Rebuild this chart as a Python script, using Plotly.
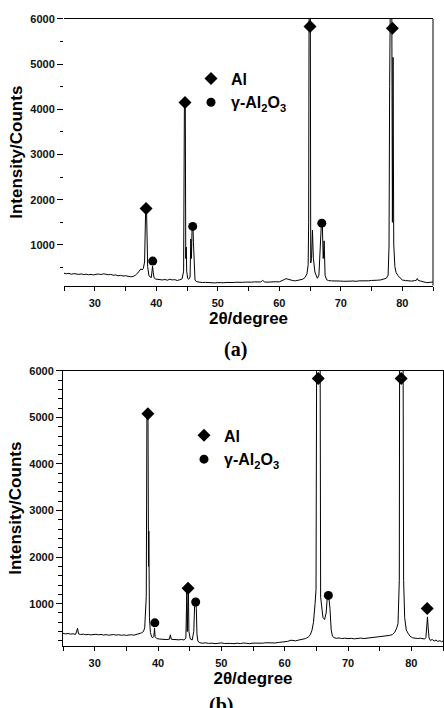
import plotly.graph_objects as go

# ---------------- data: pattern (a) ----------------
two_theta_a = [
    25.0, 25.4, 25.8, 26.2, 26.6, 27.0, 27.4, 27.8, 28.2, 28.6, 29.0, 29.4, 29.8,
    30.2, 30.6, 31.0, 31.4, 31.8, 32.2, 32.6, 33.0, 33.4, 33.8, 34.2, 34.6, 35.0,
    35.4, 35.8, 36.2, 36.6, 37.0, 37.3, 37.5, 37.7, 37.9, 38.1, 38.2, 38.28, 38.42,
    38.5, 38.6, 38.8, 39.0, 39.2, 39.32, 39.4, 39.5, 39.65, 39.9, 40.2, 40.6, 41.0,
    41.4, 41.8, 42.2, 42.6, 43.0, 43.4, 43.8, 44.2, 44.45, 44.58, 44.72, 44.8, 44.88,
    44.95, 45.1, 45.3, 45.5, 45.62, 45.72, 45.83, 45.97, 46.05, 46.15, 46.3, 46.6,
    47.0, 47.5, 48.0, 48.5, 49.0, 49.5, 50.0, 50.5, 51.0, 51.5, 52.0, 52.5, 53.0,
    53.5, 54.0, 54.5, 55.0, 55.5, 56.0, 56.5, 57.0, 57.3, 57.6, 58.0, 58.5, 59.0,
    59.5, 60.0, 60.4, 60.8, 61.1, 61.4, 61.8, 62.2, 62.6, 63.0, 63.4, 63.8, 64.2,
    64.5, 64.7, 64.78, 64.85, 65.05, 65.12, 65.25, 65.4, 65.55, 65.8, 66.0, 66.2,
    66.45, 66.7, 66.85, 67.0, 67.15, 67.3, 67.45, 67.7, 68.0, 68.5, 69.0, 69.5,
    70.0, 70.5, 71.0, 71.5, 72.0, 72.5, 73.0, 73.5, 74.0, 74.5, 75.0, 75.5, 76.0,
    76.5, 77.0, 77.4, 77.7, 77.85, 77.95, 78.05, 78.3, 78.4, 78.5, 78.62, 78.8,
    79.0, 79.3, 79.6, 80.0, 80.5, 81.0, 81.5, 82.0, 82.3, 82.45, 82.6, 83.0, 83.5,
    84.0, 84.5, 85.0,
]
counts_a = [
    375, 362, 370, 352, 366, 355, 348, 358, 344, 352, 340, 348, 336,
    350, 356, 345, 360, 352, 340, 348, 330, 336, 318, 326, 312, 318,
    305, 296, 300, 330, 380, 440, 470, 445, 480, 620, 1250, 1800, 1800,
    1150, 520, 330, 290, 280, 420, 530, 400, 270, 245, 238, 244, 225,
    236, 220, 240, 226, 232, 214, 228, 250, 420, 4150, 4150, 700, 950,
    420, 260, 240, 290, 1130, 700, 1400, 1400, 1050, 450, 220, 185,
    175, 168, 172, 165, 170, 160, 166, 158, 164, 170, 162, 168, 174,
    166, 172, 178, 170, 176, 182, 174, 180, 215, 182, 176, 184, 178,
    186, 182, 200, 232, 254, 240, 222, 212, 205, 214, 222, 240, 280,
    360, 560, 1500, 6300, 6300, 600, 700, 1330, 700, 400, 300, 262,
    330, 1000, 1480, 1480, 700, 1090, 330, 230, 212, 205, 198, 206,
    200, 196, 204, 198, 202, 195, 205, 200, 210, 206, 214, 210, 220,
    226, 238, 262, 330, 955, 4500, 6300, 6300, 1500, 5150, 1000, 520,
    390, 320, 270, 225, 212, 205, 200, 210, 218, 258, 215, 200, 185,
    165, 172, 182,
]

# ---------------- data: pattern (b) ----------------
two_theta_b = [
    25.0, 25.4, 25.8, 26.2, 26.6, 27.0, 27.3, 27.45, 27.8, 28.2, 28.6, 29.0, 29.4,
    29.8, 30.2, 30.6, 31.0, 31.4, 31.8, 32.2, 32.6, 33.0, 33.4, 33.8, 34.2, 34.6,
    35.0, 35.4, 35.8, 36.2, 36.6, 37.0, 37.4, 37.7, 37.9, 38.15, 38.25, 38.42, 38.5,
    38.55, 38.65, 38.8, 39.0, 39.2, 39.35, 39.45, 39.55, 39.8, 40.2, 40.6, 41.0,
    41.4, 41.8, 41.95, 42.1, 42.5, 42.9, 43.3, 43.7, 44.1, 44.4, 44.55, 44.62, 44.72,
    44.8, 44.88, 45.1, 45.4, 45.65, 45.8, 45.95, 46.05, 46.15, 46.3, 46.6, 47.0,
    47.5, 48.0, 48.5, 49.0, 49.5, 50.0, 50.5, 51.0, 51.5, 52.0, 52.5, 53.0, 53.5,
    54.0, 54.5, 55.0, 55.5, 56.0, 56.5, 57.0, 57.5, 58.0, 58.5, 59.0, 59.5, 60.0,
    60.5, 61.0, 61.3, 61.7, 62.1, 62.5, 62.9, 63.3, 63.7, 64.0, 64.3, 64.55, 64.8,
    64.95, 65.05, 65.6, 65.68, 65.85, 66.05, 66.3, 66.55, 66.75, 66.95, 67.15, 67.35,
    67.55, 67.8, 68.2, 68.6, 69.0, 69.5, 70.0, 70.5, 71.0, 71.5, 72.0, 72.5, 73.0,
    73.5, 74.0, 74.5, 75.0, 75.5, 76.0, 76.5, 77.0, 77.4, 77.7, 77.9, 78.1, 78.15,
    78.7, 78.78, 78.95, 79.2, 79.5, 79.8, 80.2, 80.6, 81.0, 81.4, 81.8, 82.1, 82.3,
    82.42, 82.55, 82.65, 82.8, 83.0, 83.3, 83.6, 83.9, 84.2, 84.5, 84.8, 85.0,
]
counts_b = [
    362, 350, 358, 346, 352, 340, 470, 350, 338, 344, 332, 340, 328,
    336, 342, 330, 338, 326, 334, 322, 330, 336, 324, 332, 320, 328,
    318, 326, 332, 322, 340, 350, 372, 400, 480, 1150, 5080, 5080, 1800,
    2560, 700, 380, 285, 270, 300, 470, 290, 250, 240, 232, 240,
    228, 236, 330, 235, 228, 236, 222, 230, 220, 260, 1250, 400, 1330,
    1330, 400, 240, 220, 400, 1034, 1034, 900, 350, 190, 160, 150,
    158, 146, 152, 140, 150, 156, 144, 152, 146, 140, 150, 142, 154,
    148, 140, 152, 146, 156, 150, 160, 154, 162, 155, 165, 172, 182,
    190, 215, 210, 200, 214, 225, 232, 250, 280, 320, 420, 600, 1000,
    1300, 6300, 6300, 1140, 860, 700, 660, 800, 1177, 1177, 900, 430,
    300, 270, 256, 262, 250, 258, 248, 255, 244, 252, 260, 250, 258,
    266, 260, 270, 278, 286, 300, 316, 334, 390, 480, 574, 1500, 6300,
    6300, 1500, 700, 432, 360, 300, 266, 256, 250, 258, 246, 240, 270,
    500, 715, 500, 260, 210, 230, 195, 218, 186, 205, 180, 200,
]

# ---------------- peak markers ----------------
al_a_x = [38.34, 44.68, 65.0, 78.4]
al_a_y = [1804, 4150, 5830, 5795]
gam_a_x = [39.43, 45.93, 66.92]
gam_a_y = [642, 1409, 1481]

al_b_x = [38.4, 44.75, 65.3, 78.4, 82.5]
al_b_y = [5077, 1332, 5836, 5836, 894]
gam_b_x = [39.5, 45.95, 66.9]
gam_b_y = [587, 1034, 1177]

x_range = [25, 85]
y_range = [100, 6000]

assert len(two_theta_a) == len(counts_a)
assert len(two_theta_b) == len(counts_b)

W, H = 444, 708
SANS = "Liberation Sans"
tick_font = dict(family=SANS, size=11, color="#111111", weight="bold")
title_font = dict(family=SANS, size=17, color="black", weight="bold")
legend_font = dict(family=SANS, size=16, color="black", weight="bold")

fig = go.Figure()

line_style = dict(color="black", width=1)
fig.add_trace(go.Scatter(x=two_theta_a, y=counts_a, mode="lines", line=line_style,
                         xaxis="x", yaxis="y", showlegend=False, hoverinfo="skip"))
fig.add_trace(go.Scatter(x=al_a_x, y=al_a_y, mode="markers", name="Al",
                         marker=dict(symbol="diamond", size=10, color="black"),
                         xaxis="x", yaxis="y", legend="legend"))
fig.add_trace(go.Scatter(x=gam_a_x, y=gam_a_y, mode="markers",
                         name="γ-Al<sub>2</sub>O<sub>3</sub>",
                         marker=dict(symbol="circle", size=9, color="black"),
                         xaxis="x", yaxis="y", legend="legend"))

fig.add_trace(go.Scatter(x=two_theta_b, y=counts_b, mode="lines", line=line_style,
                         xaxis="x2", yaxis="y2", showlegend=False, hoverinfo="skip"))
fig.add_trace(go.Scatter(x=al_b_x, y=al_b_y, mode="markers", name="Al",
                         marker=dict(symbol="diamond", size=10, color="black"),
                         xaxis="x2", yaxis="y2", legend="legend2"))
fig.add_trace(go.Scatter(x=gam_b_x, y=gam_b_y, mode="markers",
                         name="γ-Al<sub>2</sub>O<sub>3</sub>",
                         marker=dict(symbol="circle", size=9, color="black"),
                         xaxis="x2", yaxis="y2", legend="legend2"))


def px_x(a, b):
    return [a / W, b / W]


def px_y(top, bottom):
    return [1 - bottom / H, 1 - top / H]


def xaxis_cfg(domain, anchor):
    return dict(
        domain=domain, anchor=anchor, range=x_range, dtick=10, tick0=0,
        ticks="outside", ticklen=4, tickwidth=1, tickcolor="black",
        minor=dict(dtick=5, tick0=0, ticks="outside", ticklen=4, tickcolor="black"),
        showline=True, linecolor="black", linewidth=1, mirror=True,
        showgrid=False, zeroline=False, tickfont=tick_font, ticklabelstandoff=3,
        title=dict(text="2θ/degree", font=title_font, standoff=3),
    )


fig.update_layout(
    width=W, height=H, margin=dict(l=0, r=0, t=0, b=0),
    paper_bgcolor="white", plot_bgcolor="white",
    xaxis=xaxis_cfg(px_x(64, 433), "y"),
    yaxis=dict(
        domain=px_y(13, 282), anchor="x", range=y_range, dtick=1000, tick0=0,
        ticks="outside", ticklen=6, tickcolor="black",
        minor=dict(dtick=500, tick0=0, ticks="outside", ticklen=3, tickcolor="black"),
        showline=False, showgrid=False, zeroline=False, tickfont=tick_font,
        title=dict(text="Intensity/Counts", font=title_font, standoff=3),
    ),
    xaxis2=xaxis_cfg(px_x(63, 443), "y2"),
    yaxis2=dict(
        domain=px_y(368, 645), anchor="x2", range=y_range, dtick=1000, tick0=0,
        ticks="outside", ticklen=6, tickcolor="black",
        minor=dict(dtick=200, tick0=0, ticks="outside", ticklen=4, tickcolor="black"),
        showline=True, linecolor="black", linewidth=1, mirror=True,
        showgrid=False, zeroline=False, tickfont=tick_font,
        title=dict(text="Intensity/Counts", font=title_font, standoff=3),
    ),
    legend=dict(x=191 / W, y=1 - 56 / H, xanchor="left", yanchor="top",
                font=legend_font, bgcolor="rgba(0,0,0,0)", itemwidth=30,
                tracegroupgap=0),
    legend2=dict(x=184 / W, y=1 - 416 / H, xanchor="left", yanchor="top",
                 font=legend_font, bgcolor="rgba(0,0,0,0)", itemwidth=30,
                 tracegroupgap=0),
    annotations=[
        dict(text="<b>(a)</b>", x=235 / W, y=1 - 346 / H, xref="paper", yref="paper",
             showarrow=False, xanchor="center", yanchor="middle",
             font=dict(family="Liberation Serif", size=20, color="black")),
        dict(text="<b>(b)</b>", x=221 / W, y=1 - 705 / H, xref="paper", yref="paper",
             showarrow=False, xanchor="center", yanchor="middle",
             font=dict(family="Liberation Serif", size=20, color="black")),
    ],
    shapes=[
        dict(type="line", xref="x domain", yref="y domain", x0=1, x1=1, y0=0, y1=1,
             line=dict(color="black", width=1)),
    ],
    showlegend=True,
)

fig.write_html("out.html")
